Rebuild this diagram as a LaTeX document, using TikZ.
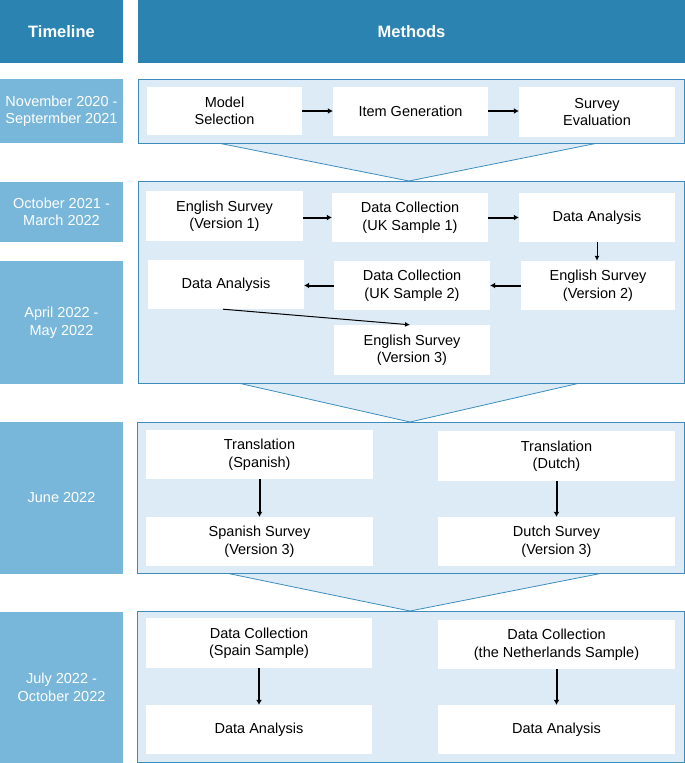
\documentclass[tikz,border=0pt]{standalone}
\usepackage{fontspec}
\setmainfont{Liberation Sans}
\usetikzlibrary{arrows.meta}
\definecolor{hdr}{HTML}{2A83B1}
\definecolor{tl}{HTML}{78B7DA}
\definecolor{pfill}{HTML}{DDEBF7}
\definecolor{pline}{HTML}{3C8DBE}
\begin{document}
\begin{tikzpicture}[x=1pt,y=-1pt,
  hdrbox/.style={fill=hdr,text=white,font=\fontsize{16.5}{20}\selectfont\bfseries,inner sep=0pt},
  tlbox/.style={fill=tl,text=white,font=\fontsize{14.5}{17.5}\selectfont,align=center,inner sep=0pt},
  panel/.style={fill=pfill,draw=pline,line width=0.9pt},
  funnel/.style={fill=pfill},
  funnelline/.style={draw=pline,line width=0.8pt},
  box/.style={fill=white,draw=none,align=center,inner sep=0pt,font=\fontsize{14.5}{17.5}\selectfont},
  thick arrow/.style={line width=2pt,-{Latex[length=5pt,width=6pt]}},
  thin arrow/.style={line width=1pt,-{Latex[length=5pt,width=5pt]}}]
\useasboundingbox (0,0) rectangle (685,763);
% header
\node[hdrbox,minimum width=123pt,minimum height=63pt] (hT) at (61.5,31.5) {Timeline};
\node[hdrbox,minimum width=547pt,minimum height=63pt] (hM) at (411.5,31.5) {Methods};
% timeline
\node[tlbox,minimum width=123pt,minimum height=64pt] (t1) at (61.5,111) {November 2020 -\\Septermber 2021};
\node[tlbox,minimum width=123pt,minimum height=60pt] (t2) at (61.5,212) {October 2021 -\\March 2022};
\node[tlbox,minimum width=123pt,minimum height=123pt] (t3) at (61.5,322.5) {April 2022 -\\May 2022};
\node[tlbox,minimum width=123pt,minimum height=152pt] (t4) at (61.5,498) {June 2022};
\node[tlbox,minimum width=123pt,minimum height=151pt] (t5) at (61.5,687.5) {July 2022 -\\October 2022};
% funnels
\fill[funnel] (218,143) -- (409,181) -- (598,143) -- cycle;
\draw[funnelline] (218,143) -- (409,181) -- (598,143);
\fill[funnel] (238,383) -- (410,422) -- (580,383) -- cycle;
\draw[funnelline] (238,383) -- (410,422) -- (580,383);
\fill[funnel] (226,573) -- (410,611) -- (603,573) -- cycle;
\draw[funnelline] (226,573) -- (410,611) -- (603,573);
% panels
\draw[panel] (138,79) rectangle (684,143);
\draw[panel] (138,181) rectangle (684,383);
\draw[panel] (137,422) rectangle (684,573);
\draw[panel] (137,611) rectangle (684,762);
% panel 1
\node[box,minimum width=155pt,minimum height=48pt] (ms) at (224.5,111) {Model\\Selection};
\node[box,minimum width=155pt,minimum height=49pt] (ig) at (410.5,111) {Item Generation};
\node[box,minimum width=156pt,minimum height=50pt] (se) at (597,112) {Survey\\Evaluation};
\draw[thick arrow] (ms.east) -- (ig.west);
\draw[thick arrow] (ig.east) -- (se.west|-ig.east);
% panel 2
\node[box,minimum width=157pt,minimum height=50pt] (v1) at (224.5,216) {English Survey\\(Version 1)};
\node[box,minimum width=156pt,minimum height=49pt] (uk1) at (410,217.5) {Data Collection\\(UK Sample 1)};
\node[box,minimum width=156pt,minimum height=49pt] (da1) at (597,217.5) {Data Analysis};
\node[box,minimum width=154pt,minimum height=49pt] (v2) at (598,285.5) {English Survey\\(Version 2)};
\node[box,minimum width=156pt,minimum height=49pt] (uk2) at (412,285.5) {Data Collection\\(UK Sample 2)};
\node[box,minimum width=156pt,minimum height=49pt] (da2) at (226,284.5) {Data Analysis};
\node[box,minimum width=156pt,minimum height=50pt] (v3) at (412,350) {English Survey\\(Version 3)};
\draw[thick arrow] (v1.east|-uk1.west) -- (uk1.west);
\draw[thick arrow] (uk1.east) -- (da1.west);
\draw[thin arrow] (da1.south) -- (v2.north-|da1.south);
\draw[thick arrow] (v2.west) -- (uk2.east);
\draw[thick arrow] (uk2.west) -- (da2.east|-uk2.west);
\draw[thin arrow] ([xshift=-3pt]da2.south) -- ([xshift=-2pt]v3.north);
% panel 3
\node[box,minimum width=227pt,minimum height=49pt] (ts) at (259.5,454.5) {Translation\\(Spanish)};
\node[box,minimum width=237pt,minimum height=50pt] (td) at (556.5,456) {Translation\\(Dutch)};
\node[box,minimum width=227pt,minimum height=49pt] (ss) at (259.5,541.5) {Spanish Survey\\(Version 3)};
\node[box,minimum width=237pt,minimum height=49pt] (ds) at (556.5,541.5) {Dutch Survey\\(Version 3)};
\draw[thick arrow] (ts.south) -- (ss.north);
\draw[thick arrow] (td.south) -- (ds.north);
% panel 4
\node[box,minimum width=226pt,minimum height=50pt] (dcs) at (259,643) {Data Collection\\(Spain Sample)};
\node[box,minimum width=237pt,minimum height=49pt] (dcn) at (556.5,644.5) {Data Collection\\(the Netherlands Sample)};
\node[box,minimum width=226pt,minimum height=49pt] (das) at (259,729.5) {Data Analysis};
\node[box,minimum width=237pt,minimum height=49pt] (dan) at (556.5,729.5) {Data Analysis};
\draw[thick arrow] (dcs.south) -- (das.north);
\draw[thick arrow] (dcn.south) -- (dan.north);
\end{tikzpicture}
\end{document}
